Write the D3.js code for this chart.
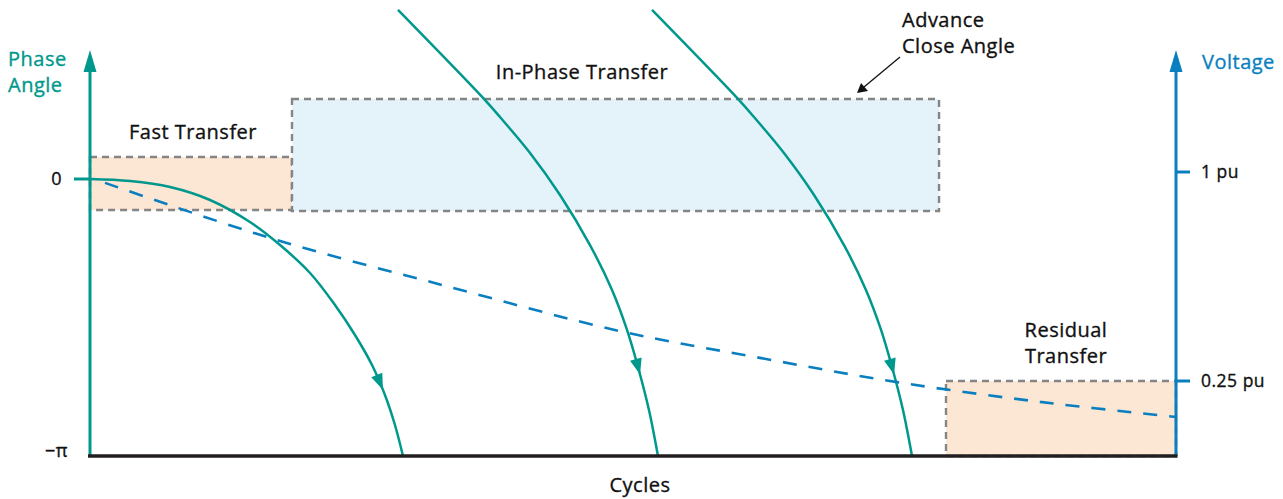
<!DOCTYPE html>
<html><head><meta charset="utf-8">
<script src="https://cdn.jsdelivr.net/npm/d3@7"></script>
<style>body{margin:0;background:#fff} svg{display:block} text{font-family:"Open Sans",sans-serif;font-weight:500;letter-spacing:0.5px;stroke-width:0.35px}</style>
</head><body><svg id="c" width="1283" height="499"></svg>
<script>
// ---- data (cycles on x, phase angle in radians, voltage in pu) ----
const curve1Cycles = [0, 0.368, 0.737, 1.105, 1.473, 1.750, 2.026, 2.256, 2.440, 2.597, 2.716, 2.808, 2.882];
const curve1Phase  = [0, -0.023, -0.091, -0.238, -0.488, -0.749, -1.066, -1.429, -1.769, -2.110, -2.450, -2.790, -Math.PI];
const curve2Cycles = [2.836, 3.619, 3.775, 4.052, 4.328, 4.604, 4.807, 4.945, 5.046, 5.147, 5.230];
const curve2Phase  = [1.917, 0.919, 0.703, 0.295, -0.181, -0.749, -1.259, -1.712, -2.132, -2.620, -Math.PI];
const curve3Cycles = [5.175, 5.958, 6.114, 6.390, 6.667, 6.943, 7.145, 7.284, 7.385, 7.486, 7.569];
const curve3Phase  = [1.917, 0.919, 0.703, 0.295, -0.181, -0.749, -1.259, -1.712, -2.132, -2.620, -Math.PI];
const voltCycles = [0.138, 1.685, 3.315, 4.880, 6.169, 7.431, 8.748, 10];
const voltValues = [0.961, 0.760, 0.587, 0.429, 0.333, 0.246, 0.175, 0.121];
const arrowPhase = [-2.39, -2.22, -2.22];
const phaseTicks = [0, -Math.PI];
const phaseTickLabels = ["0", "\u2212\u03c0"];
const voltTicks = [1, 0.25];
const voltTickLabels = ["1 pu", "0.25 pu"];
// zones: [x0, x1] cycles, [top, bottom] phase
const zoneNames = ["Fast Transfer", "In-Phase Transfer", "Residual Transfer"];
const zoneCycles = [[0, 1.860], [1.860, 7.818], [7.882, 10]];
const zoneTop = [0.25, 0.907, null];      // phase (residual uses voltage)
const zoneBottom = [-0.352, -0.363, -Math.PI];
const residualVoltTop = 0.25;

const TEAL = "#00988c", BLUE = "#0a7fc0", GRAY = "#858585";
const svg = d3.select("#c");
const x = d3.scaleLinear().domain([0, 10]).range([90, 1176]);
const yP = d3.scaleLinear().domain([-Math.PI, 0]).range([456, 179]);
const yV = d3.scaleLinear().domain([0.25, 1]).range([381, 172]);

// zones
const fills = ["#fce6d4", "#e4f2fa", "#fce6d4"];
zoneCycles.forEach((c, i) => {
  const top = zoneTop[i] === null ? yV(residualVoltTop) : yP(zoneTop[i]);
  const bot = yP(zoneBottom[i]);
  svg.append("rect").attr("x", x(c[0])).attr("y", top)
    .attr("width", x(c[1]) - x(c[0])).attr("height", bot - top)
    .attr("fill", fills[i]).attr("stroke", GRAY).attr("stroke-width", 2.4)
    .attr("stroke-dasharray", "7,5");
});

// phase curves
const line = d3.line().x(d => x(d[0])).y(d => yP(d[1])).curve(d3.curveCatmullRom.alpha(0.5));
const curves = [[curve1Cycles, curve1Phase], [curve2Cycles, curve2Phase], [curve3Cycles, curve3Phase]];
curves.forEach(([cx, cp], i) => {
  const pts = cx.map((v, j) => [v, cp[j]]);
  const path = svg.append("path").attr("d", line(pts)).attr("fill", "none")
    .attr("stroke", TEAL).attr("stroke-width", 2.5);
  const node = path.node(), L = node.getTotalLength();
  const ty = yP(arrowPhase[i]);
  let best = 0, bd = 1e9;
  for (let s = 0; s <= L; s += 0.5) { const p = node.getPointAtLength(s); const d = Math.abs(p.y - ty); if (d < bd) { bd = d; best = s; } }
  const tip = node.getPointAtLength(best), back = node.getPointAtLength(Math.max(0, best - 15));
  const dx = tip.x - back.x, dy = tip.y - back.y, n = Math.hypot(dx, dy);
  const ux = dx / n, uy = dy / n;
  const bx = tip.x - ux * 16, by = tip.y - uy * 16;
  svg.append("path").attr("d", `M${tip.x},${tip.y}L${bx - uy * 6},${by + ux * 6}L${bx + uy * 6},${by - ux * 6}Z`)
    .attr("fill", TEAL);
});

// voltage dashed curve
const vline = d3.line().x((d) => x(d[0])).y(d => yV(d[1])).curve(d3.curveCatmullRom.alpha(0.5));
svg.append("path").attr("d", vline(voltCycles.map((c, i) => [c, voltValues[i]])))
  .attr("fill", "none").attr("stroke", BLUE).attr("stroke-width", 2.6).attr("stroke-dasharray", "14,12");

// axes
svg.append("line").attr("x1", x(0)).attr("x2", x(0)).attr("y1", yP(-Math.PI)).attr("y2", 70).attr("stroke", TEAL).attr("stroke-width", 3);
svg.append("path").attr("d", `M${x(0)},50L${x(0) - 6.5},72L${x(0) + 6.5},72Z`).attr("fill", TEAL);
svg.append("line").attr("x1", x(10)).attr("x2", x(10)).attr("y1", yP(-Math.PI)).attr("y2", 70).attr("stroke", BLUE).attr("stroke-width", 3);
svg.append("path").attr("d", `M${x(10)},50L${x(10) - 6.5},72L${x(10) + 6.5},72Z`).attr("fill", BLUE);
svg.append("line").attr("x1", x(0) - 2).attr("x2", x(10) + 1.5).attr("y1", yP(-Math.PI)).attr("y2", yP(-Math.PI)).attr("stroke", "#231f20").attr("stroke-width", 3.5);

const txt = (s, xx, yy, size, col, anchor) => svg.append("text").attr("x", xx).attr("y", yy)
  .attr("text-anchor", anchor || "start").attr("font-size", size).attr("fill", col).attr("stroke", col).text(s);

phaseTicks.forEach((t, i) => {
  if (i === 0) svg.append("line").attr("x1", x(0) - 16).attr("x2", x(0)).attr("y1", yP(t)).attr("y2", yP(t)).attr("stroke", TEAL).attr("stroke-width", 3);
  txt(phaseTickLabels[i], i === 0 ? 62 : 68, yP(t) + (i === 0 ? 6 : 1), 18, "#111", "end");
});
voltTicks.forEach((t, i) => {
  svg.append("line").attr("x1", x(10)).attr("x2", x(10) + 14).attr("y1", yV(t)).attr("y2", yV(t)).attr("stroke", BLUE).attr("stroke-width", 3);
  txt(voltTickLabels[i], 1201, yV(t) + 6, 17.5, "#111");
});

// axis titles
txt("Phase", 8, 66, 20, TEAL);
txt("Angle", 8, 92, 20, TEAL);
txt("Voltage", 1202, 69, 20, BLUE);
txt("Cycles", 640, 492, 20, "#111", "middle");

// zone labels
txt(zoneNames[0], 193, 139, 20, "#111", "middle");
txt(zoneNames[1], 582, 79, 20, "#111", "middle");
txt("Residual", 1066, 337, 20, "#111", "middle");
txt("Transfer", 1066, 363, 20, "#111", "middle");
txt("Advance", 902, 27, 20, "#111");
txt("Close Angle", 902, 53, 20, "#111");
// annotation arrow
svg.append("line").attr("x1", 900).attr("y1", 57).attr("x2", 864).attr("y2", 87).attr("stroke", "#111").attr("stroke-width", 1.3);
svg.append("path").attr("d", "M857,93L861,83L868,91Z").attr("fill", "#111");
</script></body></html>
